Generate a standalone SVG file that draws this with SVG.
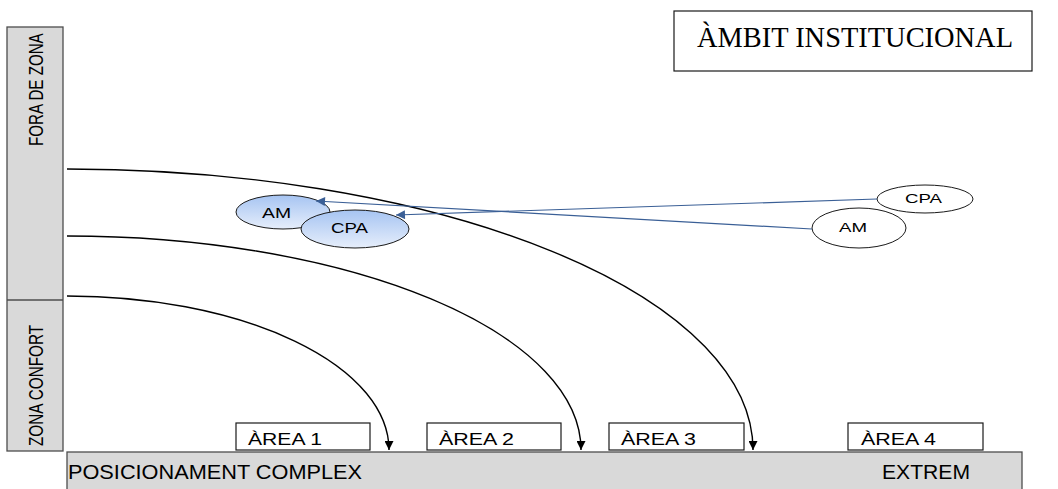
<svg xmlns="http://www.w3.org/2000/svg" width="1058" height="489" viewBox="0 0 1058 489">
  <style>
    .band { fill: #d9d9d9; stroke: #4d4d4d; stroke-width: 1.3; }
    .box { fill: #ffffff; stroke: #1a1a1a; stroke-width: 1.2; }
    .sans { font-family: "Liberation Sans", Arial, sans-serif; fill: #000; }
    .serif { font-family: "Liberation Serif", "Times New Roman", serif; fill: #000; }
    .curve { fill: none; stroke: #000; stroke-width: 1.4; marker-end: url(#blackHead); }
    .link { fill: none; stroke: #3a5f96; stroke-width: 1.2; marker-end: url(#blueHead); }
    .bubble { fill: url(#bubbleFill); stroke: #1a1a1a; stroke-width: 1; }
    .plain { fill: #ffffff; stroke: #1a1a1a; stroke-width: 1; }
  </style>
  <defs>
    <linearGradient id="bubbleFill" x1="0" y1="0" x2="0" y2="1">
      <stop offset="0" stop-color="#a6c4f2"/>
      <stop offset="1" stop-color="#e6eefb"/>
    </linearGradient>
    <marker id="blackHead" viewBox="0 0 10 10" refX="10" refY="5" markerWidth="9" markerHeight="9" markerUnits="userSpaceOnUse" orient="auto">
      <path d="M0,0 L10,5 L0,10 z" fill="#000"/>
    </marker>
    <marker id="blueHead" viewBox="0 0 10 10" refX="10" refY="5" markerWidth="10" markerHeight="9" markerUnits="userSpaceOnUse" orient="auto">
      <path d="M0,0 L10,5 L0,10 z" fill="#3a5f96"/>
    </marker>
  </defs>

  <!-- vertical zone bar, labels in a narrow face -->
  <g id="zone-bar">
    <rect class="band" x="7" y="27" width="56" height="424"/>
    <line x1="7" y1="300" x2="63" y2="300" stroke="#4d4d4d" stroke-width="1.3"/>
    <text class="sans" font-size="20" transform="translate(43,146) rotate(-90) scale(0.7,1)" textLength="161" lengthAdjust="spacingAndGlyphs">FORA DE ZONA</text>
    <text class="sans" font-size="20" transform="translate(43,446) rotate(-90) scale(0.7,1)" textLength="173" lengthAdjust="spacingAndGlyphs">ZONA CONFORT</text>
  </g>

  <!-- horizontal positioning bar -->
  <g id="position-bar">
    <rect class="band" x="67" y="452" width="955" height="45"/>
    <text class="sans" x="68" y="479" font-size="19.5" textLength="294" lengthAdjust="spacingAndGlyphs">POSICIONAMENT COMPLEX</text>
    <text class="sans" x="882" y="479" font-size="19.5" textLength="88" lengthAdjust="spacingAndGlyphs">EXTREM</text>
  </g>

  <!-- title -->
  <g id="title">
    <rect class="box" x="674" y="11" width="358" height="60"/>
    <text class="serif" x="697" y="47" font-size="28.5" textLength="316" lengthAdjust="spacingAndGlyphs">ÀMBIT INSTITUCIONAL</text>
  </g>

  <!-- area labels -->
  <g id="area-1">
    <rect class="box" x="236" y="423" width="134" height="27"/>
    <text class="sans" x="248" y="445" font-size="17" textLength="74" lengthAdjust="spacingAndGlyphs">ÀREA 1</text>
  </g>
  <g id="area-2">
    <rect class="box" x="427" y="423" width="134" height="27"/>
    <text class="sans" x="439" y="445" font-size="17" textLength="75" lengthAdjust="spacingAndGlyphs">ÀREA 2</text>
  </g>
  <g id="area-3">
    <rect class="box" x="609" y="423" width="135" height="27"/>
    <text class="sans" x="621" y="445" font-size="17" textLength="75" lengthAdjust="spacingAndGlyphs">ÀREA 3</text>
  </g>
  <g id="area-4">
    <rect class="box" x="848" y="423" width="135" height="27"/>
    <text class="sans" x="861" y="445" font-size="17" textLength="75" lengthAdjust="spacingAndGlyphs">ÀREA 4</text>
  </g>

  <!-- actor bubbles -->
  <g id="am-inner">
    <ellipse class="bubble" cx="283" cy="212" rx="47" ry="17"/>
    <text class="sans" x="262" y="218" font-size="14" textLength="29" lengthAdjust="spacingAndGlyphs">AM</text>
  </g>
  <g id="cpa-inner">
    <ellipse class="bubble" cx="355" cy="229" rx="54" ry="19"/>
    <text class="sans" x="331" y="233" font-size="14" textLength="37" lengthAdjust="spacingAndGlyphs">CPA</text>
  </g>
  <g id="cpa-outer">
    <ellipse class="plain" cx="925" cy="199" rx="48" ry="14"/>
    <text class="sans" x="905" y="203" font-size="13" textLength="37" lengthAdjust="spacingAndGlyphs">CPA</text>
  </g>
  <g id="am-outer">
    <ellipse class="plain" cx="859" cy="228" rx="47" ry="20"/>
    <text class="sans" x="839" y="232" font-size="13" textLength="28" lengthAdjust="spacingAndGlyphs">AM</text>
  </g>

  <!-- connectors -->
  <g id="connectors">
    <path class="curve" d="M67,169 A686,281 0 0 1 753,450"/>
    <path class="curve" d="M67,236 A514,214 0 0 1 581,450"/>
    <path class="curve" d="M67,296 A322,154 0 0 1 389,450"/>
    <path class="link" d="M877,199 L396,215"/>
    <path class="link" d="M812,229 L316,201"/>
  </g>
</svg>
